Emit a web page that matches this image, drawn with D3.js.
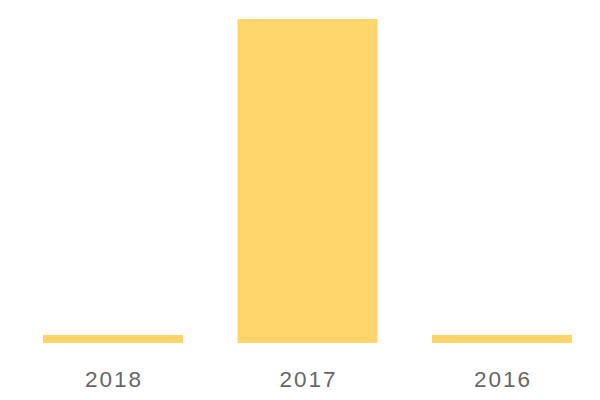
<!DOCTYPE html>
<html>
<head>
<meta charset="utf-8">
<script src="https://cdn.jsdelivr.net/npm/d3@7"></script>
<style>
html,body{margin:0;padding:0;background:#fff;}
svg{display:block;}
</style>
</head>
<body>
<svg id="chart" width="600" height="400"></svg>
<script>
const categories = ["2018", "2017", "2016"];
const values = [1, 40, 1];

const svg = d3.select("#chart");
const x = d3.scaleBand().domain(categories).range([15.8, 599.2]).paddingInner(0.28).paddingOuter(0.14);
const y = d3.scaleLinear().domain([0, 40]).range([343, 19]);

svg.selectAll("rect.bar").data(categories).join("rect")
  .attr("class", "bar")
  .attr("x", d => x(d))
  .attr("width", x.bandwidth())
  .attr("y", (d, i) => y(values[i]))
  .attr("height", (d, i) => y(0) - y(values[i]))
  .attr("fill", "#fed56b");

const axis = d3.axisBottom(x).tickSize(0).tickPadding(0);
const g = svg.append("g").attr("transform", "translate(0,387)").call(axis);
g.select(".domain").remove();
g.selectAll("text")
  .attr("dy", "0")
  .attr("dx", 1)
  .attr("font-family", "Liberation Sans, Arial, sans-serif")
  .attr("font-size", 22.5)
  .attr("letter-spacing", 2)
  .attr("fill", "#666");
</script>
</body>
</html>
